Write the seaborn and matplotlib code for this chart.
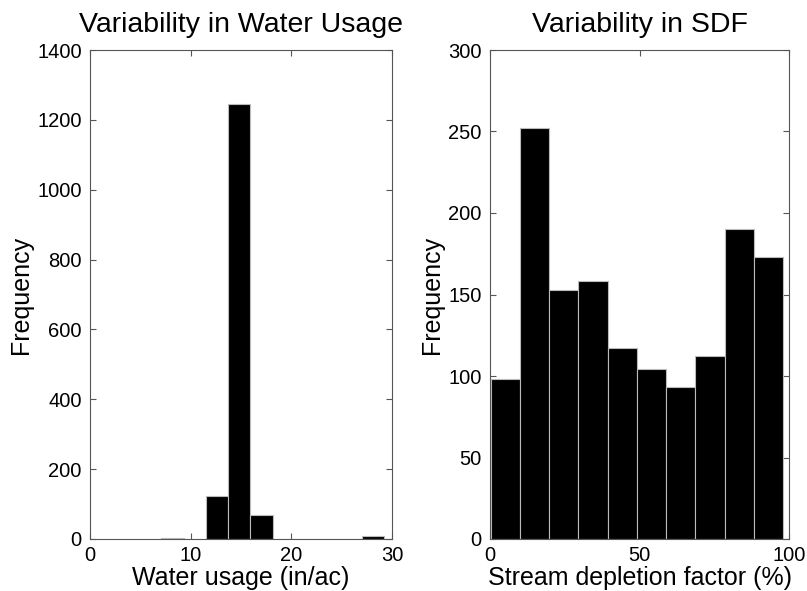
import numpy as np
import matplotlib
matplotlib.use("Agg")
import matplotlib.pyplot as plt
import seaborn as sns

# Left histogram: water usage (in/ac)
water_edges = [7.1, 9.31, 11.52, 13.73, 15.94, 18.15, 20.36, 22.57, 24.78, 26.99, 29.2]
water_counts = [3, 0, 122, 1246, 68, 0, 0, 0, 0, 8]

# Right histogram: stream depletion factor (%)
sdf_edges = [0.2, 9.98, 19.76, 29.54, 39.32, 49.1, 58.88, 68.66, 78.44, 88.22, 98.0]
sdf_counts = [98, 252, 153, 158, 117, 104, 93, 112, 190, 173]

left_xticks = [0, 10, 20, 30]
left_yticks = [0, 200, 400, 600, 800, 1000, 1200, 1400]
right_xticks = [0, 50, 100]
right_yticks = [0, 50, 100, 150, 200, 250, 300]

sns.set_theme(style="white")
plt.rcParams['font.family'] = ['Liberation Sans', 'DejaVu Sans']

fig = plt.figure(figsize=(8.07, 5.91), dpi=100)
ax1 = fig.add_axes([90/807, 52/591, 302/807, 489/591])
ax2 = fig.add_axes([490/807, 52/591, 299/807, 489/591])

def draw(ax, edges, counts, xlim, ylim, xticks, yticks, title, xlabel):
    e = np.array(edges)
    centers = (e[:-1] + e[1:]) / 2
    sns.histplot(x=centers, weights=counts, bins=edges, ax=ax, color='black',
                 edgecolor='#bbbbbb', linewidth=0.8, alpha=1.0)
    ax.set_xlim(*xlim)
    ax.set_ylim(*ylim)
    ax.set_xticks(xticks)
    ax.set_yticks(yticks)
    ax.tick_params(direction='in', length=4, width=0.8, color='#555555',
                   labelsize=14.5, top=True, right=True, bottom=True, left=True,
                   labelcolor='black')
    ax.tick_params(axis='x', pad=5)
    ax.tick_params(axis='y', pad=6)
    for s in ax.spines.values():
        s.set_color('#555555')
        s.set_linewidth(0.8)
    ax.set_title(title, fontsize=20.5, pad=13, color='black')
    ax.set_xlabel(xlabel, fontsize=18, labelpad=1, color='black')
    ax.set_ylabel('Frequency', fontsize=18, labelpad=3, color='black')

draw(ax1, water_edges, water_counts, (0, 30), (0, 1400), left_xticks, left_yticks,
     'Variability in Water Usage', 'Water usage (in/ac)')
draw(ax2, sdf_edges, sdf_counts, (0, 100), (0, 300), right_xticks, right_yticks,
     'Variability in SDF', 'Stream depletion factor (%)')

fig.savefig('out.png', dpi=100)
